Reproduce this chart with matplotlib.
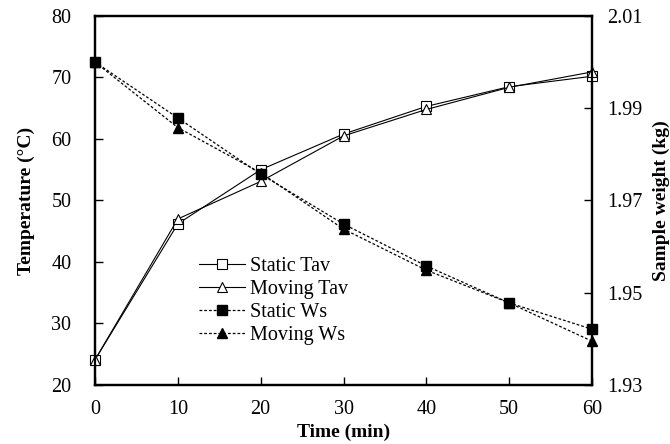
import matplotlib
matplotlib.use("Agg")
import matplotlib.pyplot as plt

time_min = [0, 10, 20, 30, 40, 50, 60]
static_tav = [24.1, 46.2, 55.0, 60.8, 65.3, 68.5, 70.2]
moving_tav = [24.1, 47.0, 53.1, 60.5, 64.8, 68.4, 70.9]
static_ws = [2.000, 1.9879, 1.9757, 1.9649, 1.9558, 1.9478, 1.9421]
moving_ws = [2.000, 1.9858, 1.9760, 1.9638, 1.9549, 1.9478, 1.9395]

x_ticks = [0, 10, 20, 30, 40, 50, 60]
left_ticks = [20, 30, 40, 50, 60, 70, 80]
right_ticks = [1.93, 1.95, 1.97, 1.99, 2.01]

plt.rcParams['font.family'] = ['Liberation Serif', 'DejaVu Serif']

fig = plt.figure(figsize=(6.7, 4.44), dpi=100)
ax = fig.add_axes([0.1418, 0.1329, 0.7418, 0.8311])
ax2 = ax.twinx()

l1, = ax.plot(time_min, static_tav, '-', color='black', lw=0.8, marker='s',
              markersize=7, markerfacecolor='white', markeredgecolor='black',
              markeredgewidth=0.8, clip_on=False, zorder=3, label='Static Tav')
l2, = ax.plot(time_min, moving_tav, '-', color='black', lw=0.8, marker='^',
              markersize=7, markerfacecolor='white', markeredgecolor='black',
              markeredgewidth=0.8, clip_on=False, zorder=3, label='Moving Tav')
l3, = ax2.plot(time_min, static_ws, color='black', lw=0.9, linestyle=(0, (2.2, 1.6)),
               marker='s', markersize=7, markerfacecolor='black',
               clip_on=False, zorder=3, label='Static Ws')
l4, = ax2.plot(time_min, moving_ws, color='black', lw=0.9, linestyle=(0, (2.2, 1.6)),
               marker='^', markersize=7, markerfacecolor='black',
               clip_on=False, zorder=3, label='Moving Ws')

ax.set_xlim(0, 60)
ax.set_ylim(20, 80)
ax2.set_ylim(1.93, 2.01)
ax.set_xticks(x_ticks)
ax.set_yticks(left_ticks)
ax2.set_yticks(right_ticks)
ax2.set_yticklabels([f"{v:.2f}" for v in right_ticks])

for a in (ax, ax2):
    for s in a.spines.values():
        s.set_linewidth(1.6)

ax.tick_params(axis='both', direction='in', length=6, width=1.0, labelsize=14.5)
ax.tick_params(axis='x', pad=11)
ax.tick_params(axis='y', pad=17)
ax2.tick_params(axis='y', direction='in', length=6, width=1.0, labelsize=14.5, pad=11)

ax.set_xlabel('Time (min)', fontsize=14, fontweight='bold', labelpad=3)
ax.set_ylabel('Temperature (°C)', fontsize=14, fontweight='bold', labelpad=12)
ax2.set_ylabel('Sample weight (kg)', fontsize=14, fontweight='bold', labelpad=7)

leg = ax2.legend(handles=[l1, l2, l3, l4], loc='upper left',
                 bbox_to_anchor=(0.18, 0.385), frameon=False, fontsize=14.5,
                 handlelength=2.3, handletextpad=0.25, labelspacing=0.2,
                 borderpad=0.2)

fig.savefig('out.png', dpi=100)
